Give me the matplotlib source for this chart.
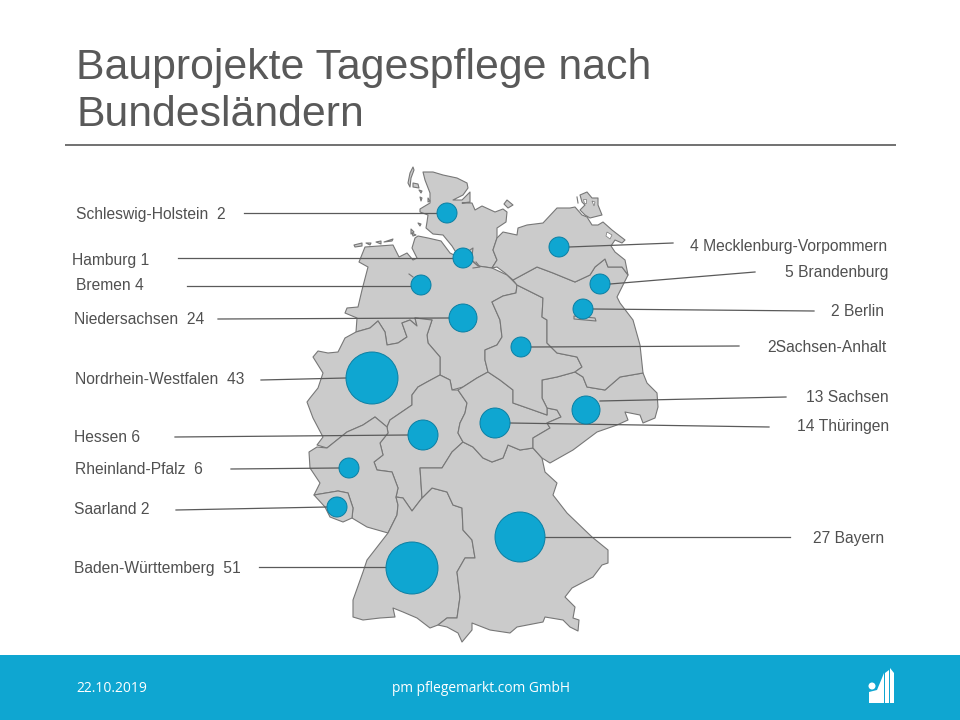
"""Bauprojekte Tagespflege: bubble map of Germany drawn in slide pixel coordinates."""
import matplotlib
matplotlib.use("Agg")
import matplotlib.pyplot as plt
import matplotlib.patches as mpatches

FONT = "Liberation Sans"
TEXT_COLOR = "#595959"
LABEL_COLOR = "#505050"
LINE_COLOR = "#5A5A5A"
MAP_FILL = "#CBCBCB"
MAP_EDGE = "#777777"
BLUE = "#0FA6D1"
BLUE_EDGE = "#0B7FA3"

# Data
left_states = ["Schleswig-Holstein", "Hamburg", "Bremen", "Niedersachsen",
               "Nordrhein-Westfalen", "Hessen", "Rheinland-Pfalz", "Saarland",
               "Baden-Württemberg"]
left_counts = [2, 1, 4, 24, 43, 6, 6, 2, 51]
right_states = ["Mecklenburg-Vorpommern", "Brandenburg", "Berlin", "Sachsen-Anhalt",
                "Sachsen", "Thüringen", "Bayern"]
right_counts = [4, 5, 2, 2, 13, 14, 27]
# The long left labels have a double space before the count
left_gaps = ["  ", " ", " ", "  ", "  ", " ", "  ", " ", "  "]

# Layout, same order as the lists above: bubble (x, y, radius), leader end, label anchor
left_bubbles = [(447, 213, 10), (463, 258, 10), (421, 285, 10), (463, 318, 14),
                (372, 378, 26), (423, 435, 15), (349, 468, 10), (337, 507, 10),
                (412, 568, 26)]
left_leaders = [(244, 213, 437, 213), (178, 258, 453, 258), (187, 286, 411, 286),
                (218, 319, 449, 318), (261, 380, 346, 378), (175, 437, 408, 435),
                (231, 469, 339, 468), (176, 510, 327, 507), (259, 567, 386, 567)]
left_anchors = [(76, 214), (72, 260), (76, 286), (74, 319), (75, 380), (74, 438),
                (75, 470), (74, 510), (74, 568)]
right_bubbles = [(559, 247, 10), (600, 284, 10), (583, 309, 10), (521, 347, 10),
                 (586, 410, 14), (495, 423, 15), (520, 537, 25)]
right_leaders = [(569, 247, 673, 243), (610, 284, 755, 272), (593, 309, 814, 311),
                 (531, 347, 739, 346), (600, 401, 786, 397), (510, 423, 769, 427),
                 (545, 537, 790, 537)]
right_anchors = [(690, 246), (785, 273), (831, 311), (767, 347), (806, 398),
                 (797, 427), (813, 538)]

# State outlines (pixels)
STATE_SHAPES = [
    [(423, 172), (433, 172), (443, 175), (457, 178), (467, 183), (468, 188), (463, 195),
     (453, 200), (462, 200), (470, 192), (470, 202), (462, 203), (472, 203), (475, 210),
     (482, 206), (495, 212), (503, 209), (507, 212), (506, 222), (497, 228), (497, 238),
     (493, 250), (497, 260), (492, 268), (478, 266), (472, 260), (457, 254), (452, 246),
     (443, 235), (433, 234), (426, 228), (427, 222), (428, 215), (420, 212), (420, 209),
     (430, 203), (430, 193), (425, 180)],
    [(415, 238), (418, 236), (428, 238), (441, 241), (450, 253), (460, 258), (472, 261),
     (478, 266), (492, 268), (507, 275), (517, 285), (516, 293), (503, 296), (492, 302),
     (500, 320), (502, 337), (497, 345), (485, 350), (485, 360), (488, 372), (477, 378),
     (463, 387), (452, 390), (450, 380), (440, 375), (440, 357), (428, 343), (427, 335),
     (432, 320), (415, 318), (417, 326), (410, 320), (402, 323), (407, 337), (398, 343),
     (387, 345), (385, 332), (378, 321), (370, 328), (356, 332), (357, 318), (345, 313),
     (347, 308), (358, 307), (362, 290), (368, 267), (359, 262), (365, 247), (393, 245),
     (399, 257), (407, 253), (413, 260), (417, 258), (412, 248)],
    [(356, 332), (370, 328), (378, 321), (385, 332), (387, 345), (398, 343), (407, 337),
     (402, 323), (410, 320), (417, 326), (415, 318), (432, 320), (427, 335), (428, 343),
     (440, 357), (440, 375), (427, 382), (418, 387), (412, 395), (412, 405), (390, 420),
     (387, 427), (375, 417), (363, 425), (347, 432), (327, 448), (317, 445), (323, 437),
     (313, 418), (307, 402), (310, 398), (318, 388), (323, 373), (313, 357), (318, 351),
     (328, 353), (338, 352), (345, 338)],
    [(412, 395), (418, 387), (427, 382), (440, 375), (450, 380), (452, 390), (458, 390),
     (467, 403), (465, 413), (460, 423), (458, 433), (463, 442), (452, 452), (442, 468),
     (420, 468), (422, 498), (412, 511), (403, 498), (396, 497), (398, 488), (392, 472),
     (377, 470), (374, 462), (383, 455), (380, 443), (388, 433), (387, 427), (390, 420),
     (412, 405)],
    [(327, 448), (347, 432), (363, 425), (375, 417), (387, 427), (388, 433), (380, 443),
     (383, 455), (374, 462), (377, 470), (392, 472), (398, 488), (396, 497), (398, 505),
     (397, 515), (388, 533), (367, 527), (352, 518), (353, 508), (348, 493), (338, 491),
     (314, 495), (320, 483), (310, 468), (309, 452), (317, 447)],
    [(314, 495), (338, 491), (348, 493), (353, 508), (352, 518), (343, 522), (330, 517),
     (325, 507)],
    [(412, 511), (422, 498), (432, 488), (447, 492), (453, 505), (462, 508), (463, 530),
     (472, 540), (475, 558), (465, 558), (457, 572), (460, 597), (457, 618), (447, 618),
     (438, 625), (430, 628), (417, 618), (403, 612), (393, 608), (395, 617), (380, 618),
     (363, 620), (353, 617), (353, 600), (363, 572), (367, 560), (388, 533), (397, 515),
     (398, 505), (396, 497), (403, 498)],
    [(420, 468), (442, 468), (452, 452), (463, 442), (473, 447), (483, 458), (492, 462),
     (503, 458), (508, 445), (520, 450), (533, 448), (542, 458), (545, 472), (557, 483),
     (553, 495), (567, 513), (592, 537), (608, 550), (608, 563), (602, 565), (593, 577),
     (572, 588), (565, 597), (575, 607), (573, 618), (579, 620), (578, 631), (570, 627),
     (563, 620), (545, 617), (543, 622), (517, 627), (510, 633), (490, 630), (472, 623),
     (472, 630), (462, 642), (458, 633), (447, 627), (438, 625), (447, 618), (457, 618),
     (460, 597), (457, 572), (465, 558), (475, 558), (472, 540), (463, 530), (462, 508),
     (453, 505), (447, 492), (432, 488), (422, 498)],
    [(488, 372), (500, 380), (513, 390), (513, 403), (533, 410), (547, 415), (547, 408),
     (557, 410), (561, 417), (547, 423), (550, 428), (533, 438), (533, 448), (520, 450),
     (508, 445), (503, 458), (492, 462), (483, 458), (473, 447), (463, 442), (458, 433),
     (460, 423), (465, 413), (467, 403), (458, 390), (463, 387), (477, 378)],
    [(542, 398), (542, 380), (557, 377), (575, 372), (583, 377), (587, 387), (605, 390),
     (620, 377), (643, 373), (647, 383), (657, 393), (658, 407), (655, 418), (643, 423),
     (640, 415), (625, 412), (628, 420), (617, 425), (597, 432), (573, 450), (550, 463),
     (542, 458), (533, 448), (533, 438), (550, 428), (547, 423), (561, 417), (557, 410),
     (547, 408)],
    [(517, 285), (533, 293), (543, 298), (542, 317), (547, 320), (547, 343), (557, 353),
     (577, 357), (582, 367), (575, 372), (557, 377), (542, 380), (542, 398), (547, 408),
     (547, 415), (533, 410), (513, 403), (513, 390), (500, 380), (488, 372), (485, 360),
     (485, 350), (497, 345), (502, 337), (500, 320), (492, 302), (503, 296), (516, 293)],
    [(513, 280), (537, 267), (553, 273), (575, 282), (590, 275), (595, 267), (605, 259),
     (608, 267), (622, 267), (628, 275), (617, 297), (620, 303), (633, 320), (640, 345),
     (643, 373), (620, 377), (605, 390), (587, 387), (583, 377), (575, 372), (582, 367),
     (577, 357), (557, 353), (547, 343), (547, 320), (542, 317), (543, 298), (517, 285)],
    [(497, 238), (503, 232), (517, 235), (518, 228), (527, 225), (543, 223), (557, 208),
     (570, 208), (575, 207), (582, 215), (587, 217), (592, 225), (598, 225), (603, 222),
     (612, 230), (625, 240), (622, 243), (615, 240), (611, 246), (615, 252), (625, 260),
     (628, 275), (622, 267), (608, 267), (605, 259), (595, 267), (590, 275), (575, 282),
     (553, 273), (537, 267), (513, 280), (505, 273), (497, 267), (492, 268), (497, 260),
     (493, 250)],
    # Berlin corner below its bubble
    [(574, 316), (595, 318), (596, 321), (574, 319)],
    # Rügen, Fehmarn and the small islands
    [(580, 195), (587, 192), (592, 198), (598, 198), (598, 205), (602, 215), (590, 218),
     (585, 215), (580, 210), (585, 205), (582, 202)],
    [(507, 200), (513, 205), (508, 208), (504, 204)],
    [(413, 167), (410, 173), (408, 183), (410, 187), (411, 178), (414, 170)],
    [(413, 183), (418, 184), (419, 188), (413, 187)],
    [(419, 190), (422, 191), (421, 193)],
    [(420, 197), (422, 198), (421, 201)],
    [(428, 198), (430, 201), (428, 202)],
    [(418, 223), (421, 224), (420, 226)],
    [(411, 229), (414, 232), (411, 234)],
    [(412, 233), (416, 235), (413, 236)],
    [(354, 245), (362, 243), (362, 246), (355, 247)],
    [(366, 243), (371, 243), (370, 245)],
    [(376, 242), (381, 241), (381, 244)],
    [(384, 242), (393, 239), (392, 241)],
]
# Lagoons cut out of Rügen and Usedom
WATER_SHAPES = [
    [(607, 232), (612, 235), (610, 239), (606, 236)],
    [(583, 199), (586, 199), (586, 203), (584, 203)],
    [(592, 201), (595, 202), (594, 206)],
]
# Short strokes: Bremen tick, Hamburg and Rügen details
DETAIL_LINES = [
    [(409, 274), (413, 277)],
    [(470, 250), (473, 248), (472, 256)],
    [(476, 262), (480, 267), (473, 268)],
    [(577, 197), (578, 203)],
]

fig = plt.figure(figsize=(9.6, 7.2), dpi=100)
ax = fig.add_axes([0, 0, 1, 1])
ax.set_xlim(0, 960)
ax.set_ylim(720, 0)
ax.axis("off")

# Title and rule
ax.text(76, 68, "Bauprojekte Tagespflege nach", fontsize=30.8, family=FONT,
        color=TEXT_COLOR, ha="left", va="center")
ax.text(76, 115, "Bundesländern", fontsize=30.8, family=FONT,
        color=TEXT_COLOR, ha="left", va="center")
ax.plot([65, 896], [145, 145], color=TEXT_COLOR, lw=1.2, solid_capstyle="butt")

# Map
for shape in STATE_SHAPES:
    ax.add_patch(mpatches.Polygon(shape, closed=True, facecolor=MAP_FILL,
                                  edgecolor=MAP_EDGE, linewidth=0.8, joinstyle="round",
                                  zorder=2))
for shape in WATER_SHAPES:
    ax.add_patch(mpatches.Polygon(shape, closed=True, facecolor="white",
                                  edgecolor=MAP_EDGE, linewidth=0.5, zorder=2))
for stroke in DETAIL_LINES:
    ax.plot(*zip(*stroke), color=MAP_EDGE, lw=0.8, zorder=2)

# Leaders, bubbles, labels
for name, count, gap, bubble, leader, anchor in zip(left_states, left_counts, left_gaps,
                                                    left_bubbles, left_leaders, left_anchors):
    ax.plot(leader[0::2], leader[1::2], color=LINE_COLOR, lw=0.9, zorder=3)
    ax.add_patch(mpatches.Circle(bubble[:2], bubble[2], facecolor=BLUE,
                                 edgecolor=BLUE_EDGE, linewidth=0.7, zorder=4))
    ax.text(anchor[0], anchor[1], f"{name}{gap}{count}", fontsize=11.25, family=FONT,
            color=LABEL_COLOR, ha="left", va="center", zorder=5)

for name, count, bubble, leader, anchor in zip(right_states, right_counts, right_bubbles,
                                               right_leaders, right_anchors):
    ax.plot(leader[0::2], leader[1::2], color=LINE_COLOR, lw=0.9, zorder=3)
    ax.add_patch(mpatches.Circle(bubble[:2], bubble[2], facecolor=BLUE,
                                 edgecolor=BLUE_EDGE, linewidth=0.7, zorder=4))
    sep = "" if name == "Sachsen-Anhalt" else " "
    ax.text(anchor[0], anchor[1], f"{count}{sep}{name}", fontsize=11.25, family=FONT,
            color=LABEL_COLOR, ha="left", va="center", zorder=5)

# Footer band
ax.add_patch(mpatches.Rectangle((0, 655), 960, 65, facecolor=BLUE, edgecolor="none"))
ax.text(76, 692, "22.10.2019", fontsize=10, family="Open Sans", color="white",
        ha="left", va="baseline")
ax.text(480.5, 692, "pm pflegemarkt.com GmbH", fontsize=9.9, family="Open Sans",
        color="white", ha="center", va="baseline")

# Logo
ax.add_patch(mpatches.Circle((872, 686), 3.5, facecolor="white", edgecolor="none"))
for logo_part in ([(869, 703), (869, 692), (877, 690), (882, 678), (884, 673), (884, 703)],
                  [(885, 703), (885, 673), (889, 670), (889, 703)],
                  [(890, 703), (890, 668), (894, 673), (894, 703)]):
    ax.add_patch(mpatches.Polygon(logo_part, closed=True, facecolor="white", edgecolor="none"))

fig.savefig("out.png", dpi=100)
plt.close(fig)
